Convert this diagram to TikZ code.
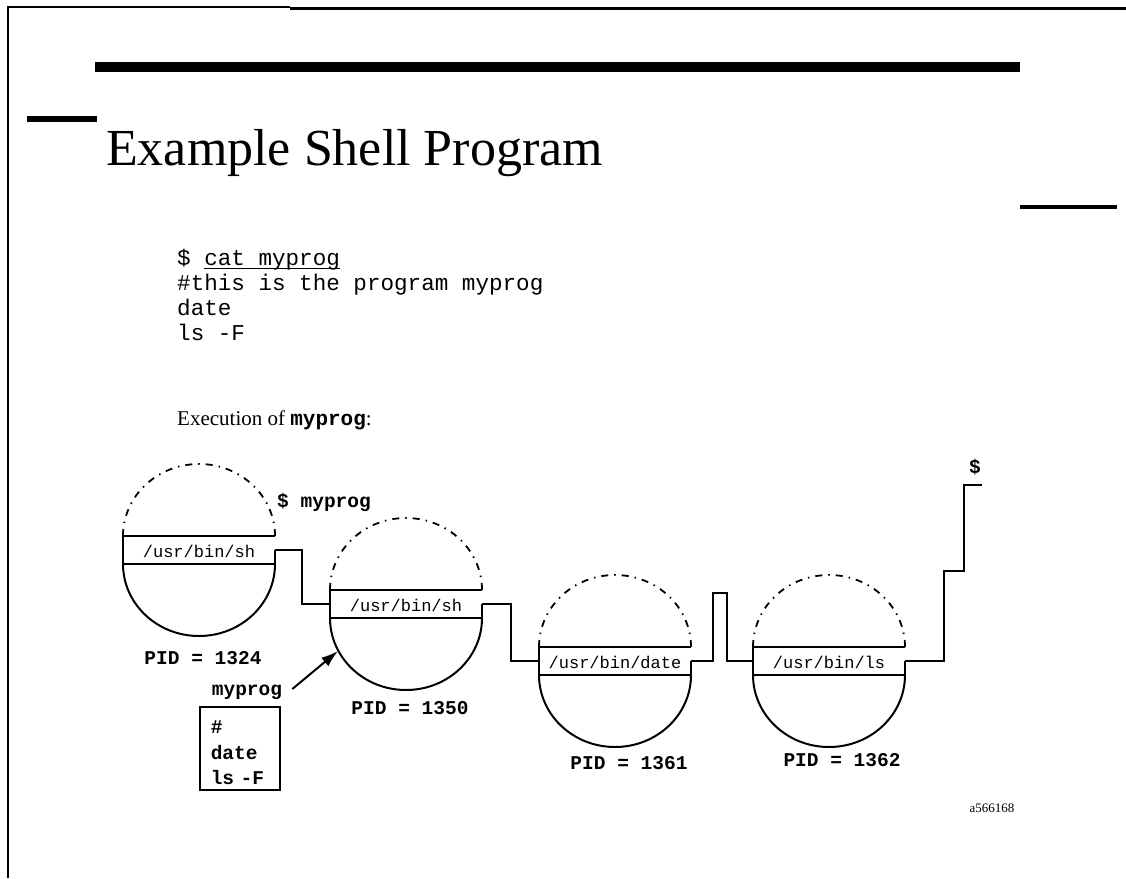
\documentclass[tikz,border=0pt]{standalone}
\usepackage{fontspec}
\setmainfont{Liberation Serif}
\setmonofont{Liberation Mono}
\usetikzlibrary{arrows.meta}
\tikzset{
  conn/.style={line width=2.5pt, line join=miter},
  shellline/.style={line width=2pt},
  dotarc/.style={line width=1.8pt, dash pattern=on 7pt off 6pt on 1.5pt off 6pt},
  pidlbl/.style={font=\fontsize{19.5}{20}\selectfont\ttfamily\bfseries, inner sep=0pt},
  exelbl/.style={font=\fontsize{17}{18}\selectfont\ttfamily, inner sep=0pt},
  listing/.style={font=\fontsize{22.6}{25}\selectfont\ttfamily, inner sep=0pt, anchor=base west},
}
\newcommand\procshape[4]{%
  \coordinate (#1l) at (#2-76,#3+14);
  \coordinate (#1r) at (#2+76,#3+14);
  \draw[dotarc] (#2-76,#3) arc[start angle=180,end angle=360,x radius=76,y radius=72];
  \draw[shellline] (#2+76,#3+14) -- (#2+76,#3+28) -- (#2-76,#3+28) -- (#2-76,#3) -- (#2+76,#3);
  \draw[shellline] (#2-76,#3+28) arc[start angle=180,end angle=0,x radius=76,y radius=72];
  \node[exelbl] (#1t) at (#2,#3+15) {#4};
}
\begin{document}
\begin{tikzpicture}[x=1pt,y=-1pt]
\useasboundingbox (0,0) rectangle (1126,878);
% frame
\coordinate (fa) at (7.5,878);
\coordinate (fb) at (7.5,7);
\coordinate (fc) at (290,7);
\coordinate (fd) at (290,8.5);
\coordinate (fe) at (1126,8.5);
\draw[line width=2pt] (fa) -- (fb) -- (fc);
\draw[line width=3.5pt] (fd) -- (fe);
\fill (95,62) rectangle (1020,72);
\fill (27,116) rectangle (97,122);
\fill (1020,205) rectangle (1117,209);
% title
\node[anchor=base west, inner sep=0pt, font=\fontsize{52}{56}\selectfont] (title) at (106,165) {Example Shell Program};
% listing
\node[listing] (l1) at (177,265) {\$ cat myprog};
\coordinate (ula) at (204,268.5);
\coordinate (ulb) at (340,268.5);
\draw[line width=1.2pt] (ula) -- (ulb);
\node[listing] (l2) at (177,290) {\#this is the program myprog};
\node[listing] (l3) at (177,315) {date};
\node[listing] (l4) at (177,340) {ls -F};
\node[anchor=base west, inner sep=0pt, font=\fontsize{21}{24}\selectfont] (exec) at (177,425) {Execution of \texttt{\bfseries myprog}:};
% processes
\procshape{pa}{199}{536}{/usr/bin/sh}
\procshape{pb}{406}{590}{/usr/bin/sh}
\procshape{pc}{615}{647}{/usr/bin/date}
\procshape{pd}{829}{647}{/usr/bin/ls}
% connectors
\draw[conn] (par) -- ++(27,0) |- (pbl);
\draw[conn] (pbr) -- ++(29,0) |- (pcl);
\coordinate (s1) at (713,661);
\coordinate (s2) at (713,593);
\coordinate (s3) at (727,593);
\coordinate (s4) at (727,661);
\draw[conn] (pcr) -- (s1) -- (s2) -- (s3) -- (s4) -- (pdl);
\coordinate (e1) at (944,661);
\coordinate (e2) at (944,571);
\coordinate (e3) at (964,571);
\coordinate (e4) at (964,485);
\coordinate (eend) at (982,485);
\draw[conn] (pdr) -- (e1) -- (e2) -- (e3) -- (e4) -- (eend);
\node[pidlbl] (prompt) at (975,467) {\$};
% labels
\node[pidlbl, anchor=west] (cmd) at (277,502) {\$ myprog};
\node[pidlbl] (pid1) at (203,658) {PID = 1324};
\node[pidlbl] (pid2) at (410,708) {PID = 1350};
\node[pidlbl] (pid3) at (629,763) {PID = 1361};
\node[pidlbl] (pid4) at (842,760) {PID = 1362};
\node[pidlbl, inner xsep=10pt, inner ysep=4pt] (myp) at (247,692) {myprog};
\coordinate (pbarc) at (338,651);
\draw[line width=2pt, -{Latex[length=17pt,width=11pt]}] ([yshift=3pt]myp.east) -- (pbarc);
\node[draw, line width=2pt, align=left, text width=58.5pt, inner xsep=10.75pt, minimum height=83pt,
      font=\fontsize{19.5}{25.5}\selectfont\ttfamily\bfseries] (box) at (240,748.5) {\rule{0pt}{22pt}\#\\date\\ls -F};
\node[inner sep=0pt, font=\fontsize{13}{14}\selectfont] (fig) at (992,808) {a566168};
\end{tikzpicture}
\end{document}
